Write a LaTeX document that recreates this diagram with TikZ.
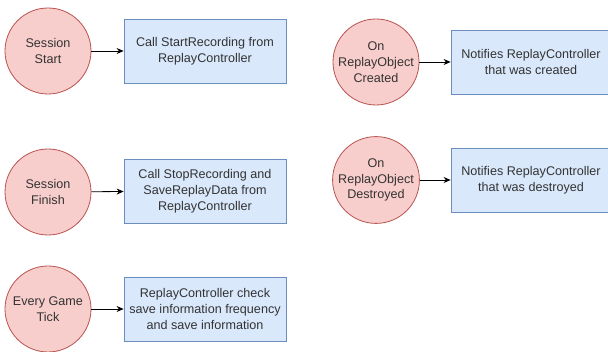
\documentclass[tikz,border=0pt]{standalone}
\usepackage{fontspec}
\setmainfont{Liberation Sans}
\usetikzlibrary{arrows.meta}
\definecolor{pinkfill}{HTML}{F8CECC}
\definecolor{pinkline}{HTML}{B85450}
\definecolor{bluefill}{HTML}{DAE8FC}
\definecolor{blueline}{HTML}{6C8EBF}
\definecolor{txt}{HTML}{333333}
\begin{document}
\begin{tikzpicture}[x=1pt,y=-1pt,
  evt/.style={circle,draw=pinkline,fill=pinkfill,line width=0.8pt,minimum size=86pt,inner sep=0pt,align=center,text=txt,font=\fontsize{12.6}{15.8}\selectfont},
  act/.style={rectangle,draw=blueline,fill=bluefill,line width=0.8pt,minimum width=162pt,minimum height=64pt,inner sep=0pt,align=center,text=txt,font=\fontsize{12.6}{15.8}\selectfont},
  conn/.style={-{Stealth[length=7pt,width=6pt]},line width=0.8pt,black}]
\useasboundingbox (0,0) rectangle (608,352);
\begin{scope}
\clip (0,0) rectangle (608,352);
\node[evt] (c1) at (48,51) {Session\\Start};
\node[act] (b1) at (205,51) {Call StartRecording from\\ReplayController};
\node[evt] (c2) at (48,192) {Session\\Finish};
\node[act] (b2) at (205,191) {Call StopRecording and\\SaveReplayData from\\ReplayController};
\node[evt] (c3) at (48,309) {Every Game\\Tick};
\node[act] (b3) at (205,309) {ReplayController check\\save information frequency\\and save information};
\node[evt] (c4) at (376,62) {On\\ReplayObject\\Created};
\node[act,minimum width=160pt] (b4) at (531,62) {Notifies ReplayController\\that was created};
\node[evt] (c5) at (376,180) {On\\ReplayObject\\Destroyed};
\node[act,minimum width=160pt] (b5) at (531,180) {Notifies ReplayController\\that was destroyed};
\draw[conn] (c1) -- (b1);
\draw[conn] (c2) -- (b2);
\draw[conn] (c3) -- (b3);
\draw[conn] (c4) -- (b4);
\draw[conn] (c5) -- (b5);
\end{scope}
\end{tikzpicture}
\end{document}
